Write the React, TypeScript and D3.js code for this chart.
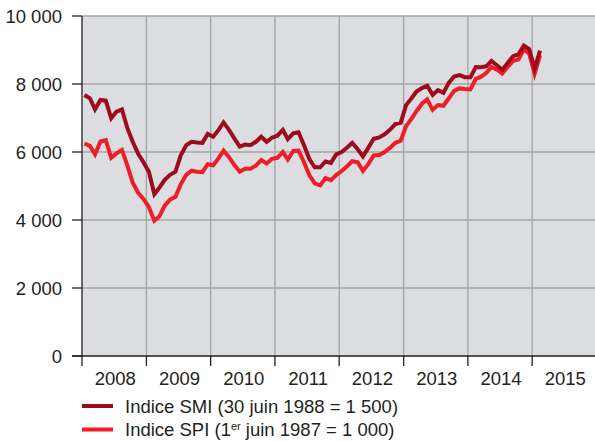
import React, { useRef, useEffect } from "react";
import * as d3 from "d3";

// monthly values, Jan 2008 .. Feb 2015
const smiValues = [
  7676, 7580, 7255, 7530, 7510, 6990, 7190, 7255, 6700, 6300, 5950, 5700,
  5420, 4760, 4950, 5180, 5330, 5420, 5900, 6200, 6300, 6280,
  6270, 6530, 6450, 6650, 6870, 6650, 6400, 6160, 6220, 6200, 6300, 6450,
  6300, 6420, 6480, 6650, 6380, 6550, 6580, 6200, 5800, 5550, 5550, 5720,
  5680, 5930, 6000, 6130, 6270, 6080, 5870, 6130, 6390, 6430, 6520, 6650,
  6820, 6860, 7380, 7580, 7780, 7880, 7950, 7680, 7820, 7740, 8040, 8220,
  8260, 8200, 8200, 8500, 8490, 8520, 8680, 8550, 8420, 8620, 8820, 8870,
  9130, 9030, 8460, 8980,
];

const spiValues = [
  6250, 6180, 5930, 6310, 6350, 5830, 5960, 6060, 5600, 5100, 4800, 4620,
  4380, 3980, 4100, 4420, 4600, 4680, 5050, 5330, 5450, 5420,
  5410, 5640, 5610, 5820, 6040, 5850, 5620, 5420, 5510, 5510, 5600, 5760,
  5660, 5800, 5830, 6000, 5780, 6030, 6040, 5700, 5320, 5080, 5020, 5230,
  5170, 5320, 5440, 5580, 5730, 5700, 5440, 5650, 5900, 5910, 6000, 6120,
  6270, 6330, 6760, 6980, 7200, 7420, 7550, 7240, 7380, 7360, 7580, 7800,
  7870, 7850, 7840, 8150, 8210, 8320, 8500, 8420, 8310, 8500, 8680, 8720,
  9020, 8900, 8300, 8850,
];

const years = [2008, 2009, 2010, 2011, 2012, 2013, 2014, 2015];
const yTicks = [0, 2000, 4000, 6000, 8000, 10000];

const series = [
  { name: "SPI", values: spiValues, color: "#ee1d26" },
  { name: "SMI", values: smiValues, color: "#9d0b1c" },
];

const W = 595;
const H = 441;
const font = "'Liberation Sans', Arial, sans-serif";
const ink = "#231f20";
const fs = 18.5;

const App: React.FC = () => {
  const ref = useRef<SVGSVGElement>(null);

  useEffect(() => {
    if (!ref.current) return;
    const svg = d3.select(ref.current);
    svg.selectAll("*").remove();

    const left = 82,
      top = 16,
      bottom = 356;

    const x = d3
      .scaleTime()
      .domain([new Date(2008, 0, 1), new Date(2016, 0, 1)])
      .range([left, left + 8 * 64.3]);
    const y = d3.scaleLinear().domain([0, 10000]).range([bottom, top]);

    // month midpoints
    const months = d3
      .timeMonth.range(new Date(2008, 0, 1), new Date(2015, 2, 1))
      .map((d) => new Date(d.getFullYear(), d.getMonth(), 15));

    svg
      .append("rect")
      .attr("x", left)
      .attr("y", top)
      .attr("width", x(new Date(2016, 0, 1)) - left)
      .attr("height", bottom - top)
      .attr("fill", "#dcdde0");

    // grid
    svg
      .selectAll(".hg")
      .data(yTicks.filter((d) => d > 0))
      .enter()
      .append("line")
      .attr("x1", left)
      .attr("x2", W)
      .attr("y1", (d) => y(d))
      .attr("y2", (d) => y(d))
      .attr("stroke", "#a3a4a7")
      .attr("stroke-width", 1.3);

    svg
      .selectAll(".vg")
      .data(years.slice(1).concat([2016]))
      .enter()
      .append("line")
      .attr("x1", (d) => x(new Date(d, 0, 1)))
      .attr("x2", (d) => x(new Date(d, 0, 1)))
      .attr("y1", top)
      .attr("y2", bottom)
      .attr("stroke", "#a3a4a7")
      .attr("stroke-width", 1.3);

    // lines
    const line = d3
      .line<number>()
      .x((_, i) => x(months[i]))
      .y((d) => y(d))
      .curve(d3.curveLinear);

    series.forEach((s) => {
      svg
        .append("path")
        .datum(s.values)
        .attr("fill", "none")
        .attr("stroke", s.color)
        .attr("stroke-width", 4)
        .attr("stroke-linejoin", "miter")
        .attr("d", line);
    });

    // axes
    svg
      .append("line")
      .attr("x1", left)
      .attr("x2", left)
      .attr("y1", top)
      .attr("y2", bottom)
      .attr("stroke", ink)
      .attr("stroke-width", 1.3);
    svg
      .append("line")
      .attr("x1", left - 10)
      .attr("x2", W)
      .attr("y1", bottom)
      .attr("y2", bottom)
      .attr("stroke", ink)
      .attr("stroke-width", 1.3);

    const fmt = (d: number) => d3.format(",")(d).replace(/,/g, " ");

    yTicks.forEach((t) => {
      svg
        .append("line")
        .attr("x1", left - 10)
        .attr("x2", left)
        .attr("y1", y(t))
        .attr("y2", y(t))
        .attr("stroke", ink)
        .attr("stroke-width", 1.3);
      svg
        .append("text")
        .attr("x", 62)
        .attr("y", y(t) + 6.6)
        .attr("text-anchor", "end")
        .attr("font-family", font)
        .attr("font-size", fs)
        .attr("fill", ink)
        .text(fmt(t));
    });

    years.concat([2016]).forEach((yr) => {
      const xx = x(new Date(yr, 0, 1));
      svg
        .append("line")
        .attr("x1", xx)
        .attr("x2", xx)
        .attr("y1", bottom)
        .attr("y2", bottom + 10)
        .attr("stroke", ink)
        .attr("stroke-width", 1.3);
    });

    years.forEach((yr) => {
      const xm = (x(new Date(yr, 0, 1)) + x(new Date(yr + 1, 0, 1))) / 2;
      svg
        .append("text")
        .attr("x", xm + 1)
        .attr("y", 385)
        .attr("text-anchor", "middle")
        .attr("font-family", font)
        .attr("font-size", fs)
        .attr("fill", ink)
        .text(yr);
    });

    // legend
    const legend = [
      { color: "#9d0b1c", y: 406, label: ["Indice SMI (30 juin 1988 = 1 500)"] },
      { color: "#ee1d26", y: 429.5, label: ["Indice SPI (1", "er", " juin 1987 = 1 000)"] },
    ];
    legend.forEach((l) => {
      svg
        .append("line")
        .attr("x1", 82)
        .attr("x2", 113)
        .attr("y1", l.y)
        .attr("y2", l.y)
        .attr("stroke", l.color)
        .attr("stroke-width", 4);
      const t = svg
        .append("text")
        .attr("x", 125)
        .attr("y", l.y + 6.6)
        .attr("font-family", font)
        .attr("font-size", fs)
        .attr("fill", ink);
      if (l.label.length === 1) {
        t.text(l.label[0]);
      } else {
        t.append("tspan").text(l.label[0]);
        t.append("tspan")
          .attr("font-size", 11)
          .attr("dy", -6.5)
          .text(l.label[1]);
        t.append("tspan").attr("dy", 6.5).text(l.label[2]);
      }
    });
  }, []);

  return (
    <svg
      ref={ref}
      width={W}
      height={H}
      style={{ position: "absolute", left: 0, top: 0, background: "#fff" }}
    />
  );
};

export default App;
